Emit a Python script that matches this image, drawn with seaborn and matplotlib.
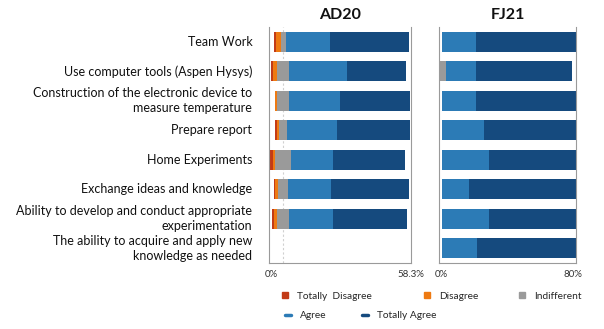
import numpy as np
import pandas as pd
import seaborn as sns
import matplotlib.pyplot as plt
from matplotlib.lines import Line2D

# categories (top to bottom)
categories = ["Team Work",
              "Use computer tools (Aspen Hysys)",
              "Construction of the electronic device to\nmeasure temperature",
              "Prepare report",
              "Home Experiments",
              "Exchange ideas and knowledge",
              "Ability to develop and conduct appropriate\nexperimentation",
              "The ability to acquire and apply new\nknowledge as needed"]

levels = ["Totally  Disagree", "Disagree", "Indifferent", "Agree", "Totally Agree"]
colors = ["#C23B17", "#EE7A12", "#9A9A9A", "#2C7BB6", "#154A7E"]

# percentages per group (AD20 has no answer for the last item)
td_ad20 = [1.8, 1.5, 0.5, 1.0, 2.4, 0.5, 1.5, np.nan]
d_ad20 = [3.2, 3.0, 1.5, 1.7, 1.5, 2.8, 2.7, np.nan]
ind_ad20 = [3.7, 8.9, 8.4, 6.1, 11.4, 6.9, 8.7, np.nan]
agree_ad20 = [32.6, 43.0, 37.8, 37.0, 31.6, 32.4, 32.4, np.nan]
ta_ad20 = [58.5, 43.7, 51.8, 54.2, 53.1, 57.4, 54.7, np.nan]

td_fj21 = [0, 0, 0, 0, 0, 0, 0, 0]
d_fj21 = [0, 0, 0, 0, 0, 0, 0, 0]
ind_fj21 = [0, 6.4, 0, 0, 0, 0, 0, 0]
agree_fj21 = [25.9, 22.7, 25.9, 31.3, 35.0, 20.2, 35.0, 26.1]
ta_fj21 = [74.1, 70.9, 74.1, 68.7, 65.0, 79.8, 65.0, 73.9]

sns.set_style("white")
plt.rcParams['font.family'] = ['Lato', 'DejaVu Sans']

fig = plt.figure(figsize=(6.04, 3.29), dpi=100)
ax1 = fig.add_axes([0.4454, 0.2006, 0.2351, 0.7173])
ax2 = fig.add_axes([0.7268, 0.2006, 0.2268, 0.7173])


def diverging(ax, td, d, ind, ag, ta):
    td, d, ind, ag, ta = [np.array(v, dtype=float) for v in (td, d, ind, ag, ta)]
    half = ind / 2
    # positive side, widest first so the narrower ones sit on top
    pos = [(half + ag + ta, colors[4]), (half + ag, colors[3]), (half, colors[2])]
    neg = [(-(half + d + td), colors[0]), (-(half + d), colors[1]), (-half, colors[2])]
    for vals, c in pos + neg:
        sns.barplot(x=vals, y=categories, order=categories, orient='h', color=c,
                    width=0.67, saturation=1, edgecolor='none', linewidth=0, ax=ax)


diverging(ax1, td_ad20, d_ad20, ind_ad20, agree_ad20, ta_ad20)
diverging(ax2, td_fj21, d_fj21, ind_fj21, agree_fj21, ta_fj21)

ax1.axvline(0, color='#d0d0d0', ls=(0, (2, 2)), lw=0.8, zorder=0)

ax1.set_xlim(-10.4, 94.8)
ax2.set_xlim(-2.0, 100)
ax1.set_xticks([-9.0, 94.8])
ax1.set_xticklabels(['0%', '58.3%'])
ax2.set_xticks([-0.5, 98.0])
ax2.set_xticklabels(['0%', '80%'])

for ax, title in [(ax1, 'AD20'), (ax2, 'FJ21')]:
    ax.set_ylim(7.5, -0.5)
    ax.set_xlabel('')
    ax.set_ylabel('')
    ax.set_title(title, fontsize=11.5, fontweight='bold', pad=6, color='#111111')
    ax.tick_params(axis='x', length=0, labelsize=7, labelcolor='#333333', pad=5)
    ax.tick_params(axis='y', length=0)
    for s in ['left', 'right', 'bottom']:
        ax.spines[s].set_visible(True)
        ax.spines[s].set_color('#9a9a9a')
        ax.spines[s].set_linewidth(0.8)
    ax.spines['top'].set_visible(False)

ax1.set_yticks(range(len(categories)))
ax1.set_yticklabels(categories, fontsize=9, color='#111111', linespacing=1.3, va='center')
ax1.tick_params(axis='y', pad=12)
ax2.set_yticklabels([])

# legend entries placed one by one
handles = [Line2D([], [], marker='s', ls='', color=c, markersize=5) for c in colors[:3]]
handles += [Line2D([], [], ls='-', lw=2.5, color=c) for c in colors[3:]]
anchors = [(0.452, 0.10), (0.687, 0.10), (0.844, 0.10), (0.457, 0.04), (0.584, 0.04)]
for h, name, pos in zip(handles, levels, anchors):
    fig.legend([h], [name], loc='center left', bbox_to_anchor=pos, frameon=False,
               fontsize=7.3, handlelength=0.6, handletextpad=0.9)

fig.savefig('out.png', dpi=100)
